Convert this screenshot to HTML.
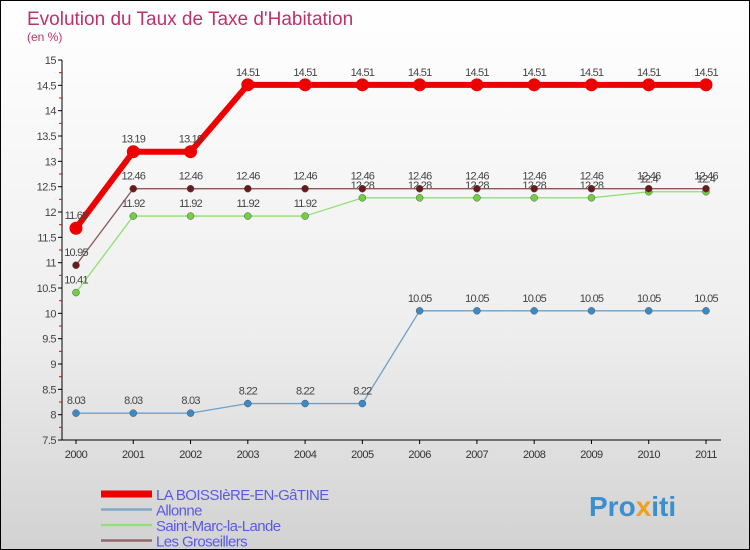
<!DOCTYPE html>
<html><head><meta charset="utf-8"><style>
body{margin:0}
#c{width:750px;height:550px;position:relative;overflow:hidden;background:linear-gradient(#ffffff 0%,#eeeeee 60%,#d2d2d2 100%);font-family:"Liberation Sans",sans-serif;border:1px solid #000;box-sizing:border-box}
</style></head><body>
<div id="c">
<svg id="s" width="750" height="550" style="position:absolute;left:0;top:0">
<text x="26" y="24" font-size="19" fill="#c0306a">Evolution du Taux de Taxe d'Habitation</text>
<text x="26" y="40" font-size="12" fill="#c0306a">(en %)</text>
<text x="588" y="515" font-size="28" font-weight="bold" fill="#3a8fd0">Pro<tspan fill="#f0a020">x</tspan>iti</text>
</svg>
</div>
<script>
const years=[2000,2001,2002,2003,2004,2005,2006,2007,2008,2009,2010,2011];
const yTicks=[7.5,8,8.5,9,9.5,10,10.5,11,11.5,12,12.5,13,13.5,14,14.5,15];
const boissiere=[11.68,13.19,13.19,14.51,14.51,14.51,14.51,14.51,14.51,14.51,14.51,14.51];
const allonne=[8.03,8.03,8.03,8.22,8.22,8.22,10.05,10.05,10.05,10.05,10.05,10.05];
const saintMarc=[10.41,11.92,11.92,11.92,11.92,12.28,12.28,12.28,12.28,12.28,12.4,12.4];
const groseillers=[10.95,12.46,12.46,12.46,12.46,12.46,12.46,12.46,12.46,12.46,12.46,12.46];
const seriesNames=["LA BOISSIèRE-EN-GâTINE","Allonne","Saint-Marc-la-Lande","Les Groseillers"];
const NS="http://www.w3.org/2000/svg",svg=document.getElementById('s');
const X=i=>75+i*(630/11), Y=v=>59+(15-v)*50.67;
function el(t,a,p){const e=document.createElementNS(NS,t);for(const k in a)e.setAttribute(k,a[k]);(p||svg).appendChild(e);return e;}
const ax=el('line',{x1:61,y1:Y(15),x2:61,y2:Y(7.5),stroke:'#000'});

const xa=el('line',{x1:61,y1:Y(7.5),x2:720,y2:Y(7.5),stroke:'#000'});

yTicks.forEach(v=>{el('line',{x1:57,y1:Y(v),x2:61,y2:Y(v),stroke:'#000'});
 if(v<15)el('line',{x1:58,y1:Y(v+0.25),x2:61,y2:Y(v+0.25),stroke:'#e00'});
 const t=el('text',{x:55,y:Y(v)+4,'font-size':11,fill:'#444','text-anchor':'end','letter-spacing':'-0.5'});t.textContent=String(v);
 });
years.forEach((y,i)=>{el('line',{x1:X(i),y1:Y(7.5),x2:X(i),y2:Y(7.5)+4,stroke:'#000'});
 const t=el('text',{x:X(i),y:Y(7.5)+18,'font-size':11,fill:'#333','text-anchor':'middle','letter-spacing':'-0.5'});t.textContent=y;
 });
function series(d,col,w,r,dot,name){
 const g=el('g',{});
 el('polyline',{points:d.map((v,i)=>X(i)+','+Y(v)).join(' '),fill:'none',stroke:col,'stroke-width':w,'stroke-linejoin':'round'},g);
 d.forEach((v,i)=>{const c=el('circle',{cx:X(i),cy:Y(v),r:r,fill:dot,stroke:w>3?'none':'#555','stroke-width':0.5},g);
  
  const t=el('text',{x:X(i),y:Y(v)-9,'font-size':11,fill:'#444','text-anchor':'middle','letter-spacing':'-0.8'},g);t.textContent=String(v);});
}
series(allonne,'#6fa0c8',1.3,3.5,'#3a8ac8','series-allonne');
series(saintMarc,'#90e070',1.3,3.5,'#70d040','series-saint-marc');
series(groseillers,'#8b5a5a',1.3,3.5,'#6a1a1a','series-groseillers');
series(boissiere,'#ee0000',6,6.5,'#ee0000','series-boissiere');
const lc=['#ee0000','#80a8c8','#98dc80','#906a6a'],lw=[7,2.5,2.5,2.5];
seriesNames.forEach((n,k)=>{const y=493+k*15.5;
 const g=el('g',{});
 el('line',{x1:100,y1:y,x2:151,y2:y,stroke:lc[k],'stroke-width':lw[k]},g);
 const t=el('text',{x:155,y:y+6,'font-size':15,fill:'#5a5ae8','letter-spacing':'-0.6'},g);t.textContent=n;});
</script>
</body></html>
